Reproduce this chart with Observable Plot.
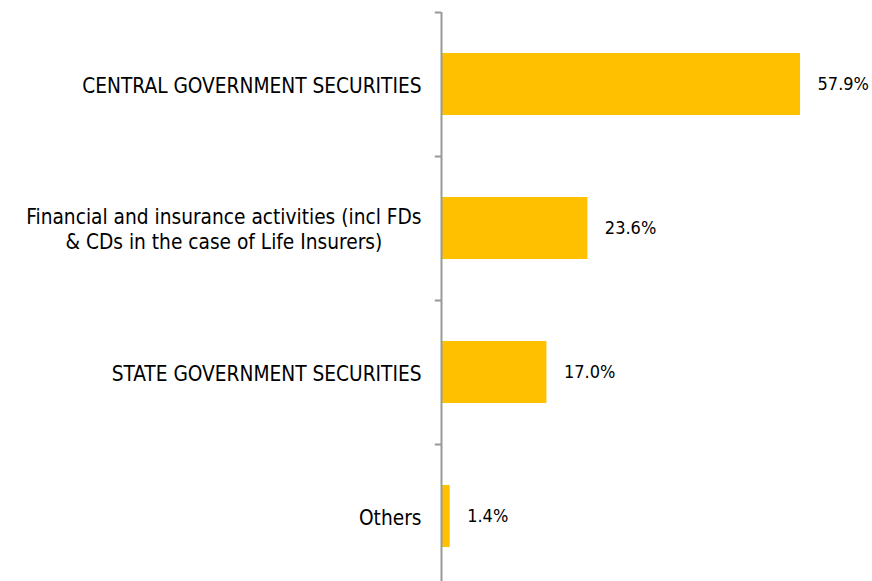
<!DOCTYPE html>
<html>
<head>
<meta charset="utf-8">
<script src="https://cdn.jsdelivr.net/npm/d3@7"></script>
<script src="https://cdn.jsdelivr.net/npm/@observablehq/plot@0.6"></script>
<style>
  html, body { margin: 0; padding: 0; background: #fff; overflow: hidden; }
</style>
</head>
<body>
<div id="chart"></div>
<script>
const categories = [
  "CENTRAL GOVERNMENT SECURITIES",
  "Financial and insurance activities (incl FDs\n& CDs in the case of Life Insurers)",
  "STATE GOVERNMENT SECURITIES",
  "Others"
];
const values = [57.9, 23.6, 17.0, 1.4];
const valueLabels = ["57.9%", "23.6%", "17.0%", "1.4%"];

const data = categories.map((c, i) => ({category: c, value: values[i], label: valueLabels[i]}));

const chart = Plot.plot({
  width: 872,
  height: 581,
  marginTop: 12,
  marginBottom: -7,
  marginLeft: 441,
  marginRight: 0,
  style: {fontFamily: "'DejaVu Sans Condensed', 'DejaVu Sans', sans-serif", fontSize: "20px", color: "#000", background: "#fff"},
  x: {domain: [0, 69.5], axis: null},
  y: {domain: categories, padding: 0, axis: null, label: null},
  marks: [
    Plot.barX(data, {y: "category", x: "value", fill: "#FFC000", insetTop: 41, insetBottom: 41}),
    Plot.ruleY(categories, {y: d => d, x1: -1, x2: 0, dy: -72, stroke: "#999", strokeWidth: 2}),
    Plot.ruleX([0], {stroke: "#999", strokeWidth: 2}),
    Plot.axisY({tickSize: 0, tickPadding: 20, lineHeight: 1.23, fontSize: 20.7, label: null, fill: "#000"}),
    Plot.text(data, {y: "category", x: "value", text: "label", dx: 17, textAnchor: "start", fontSize: 18, fill: "#000"})
  ]
});
document.getElementById("chart").appendChild(chart);

// Center multi-line tick labels within their own block (block stays right-aligned to the axis)
d3.select(chart).selectAll("text").each(function() {
  const spans = this.querySelectorAll("tspan");
  if (spans.length > 1) {
    const bb = this.getBBox();
    const cx = bb.x + bb.width / 2;
    this.setAttribute("text-anchor", "middle");
    spans.forEach(s => s.setAttribute("x", cx));
  }
});
</script>
</body>
</html>
